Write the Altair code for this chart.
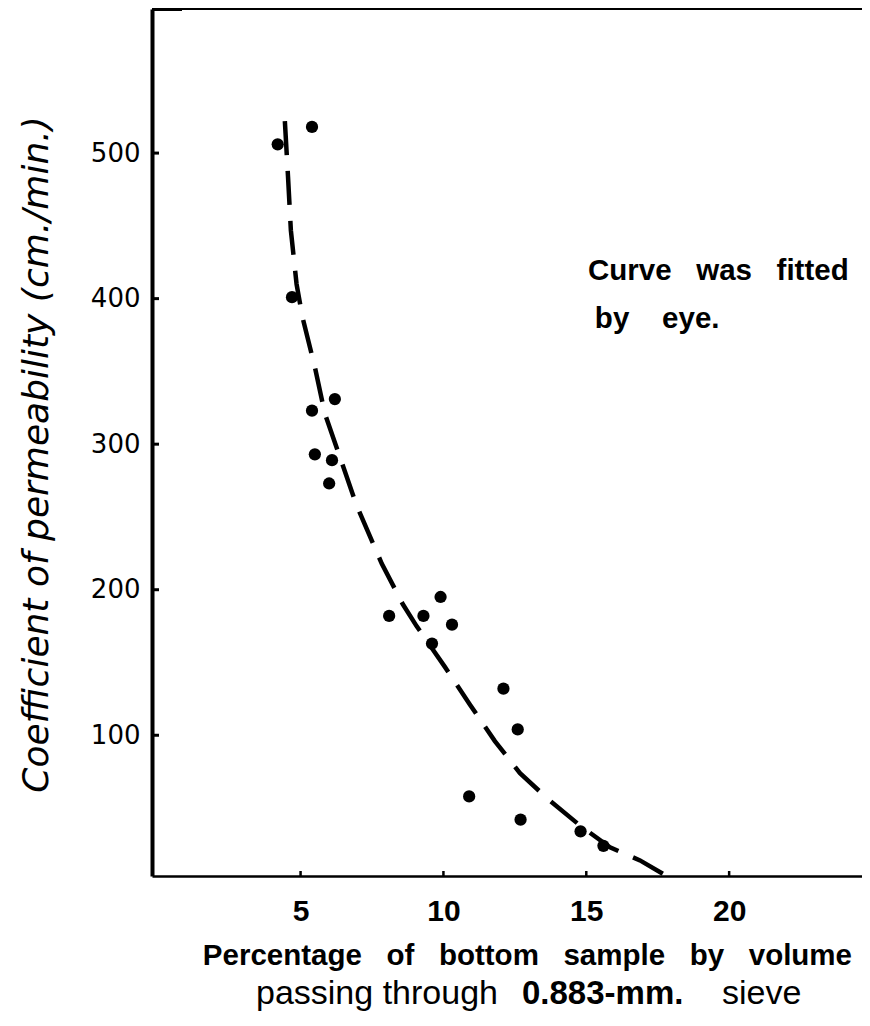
import altair as alt
import pandas as pd

# Data points (percentage passing, coefficient of permeability)
x_pts = [4.2, 5.4, 4.7, 5.4, 6.2, 5.5, 6.1, 6.0, 8.1, 9.3, 9.9, 10.3, 9.6, 12.1, 12.6, 10.9, 12.7, 14.8, 15.6]
y_pts = [506, 518, 401, 323, 331, 293, 289, 273, 182, 182, 195, 176, 163, 132, 104, 58, 42, 34, 24]

# Curve fitted by eye
curve_x = [4.45, 4.56, 4.66, 4.86, 5.07, 5.50, 5.85, 6.38, 6.96, 7.84, 8.58, 9.06, 10.05,
           10.93, 11.80, 12.68, 13.67, 14.78, 15.83, 16.88, 17.81]
curve_y = [522, 484, 447, 410, 387, 353, 321, 291, 258, 218, 190, 175, 147,
           121, 96, 74, 56, 38, 23, 14, 3.3]

x_ticks = [5, 10, 15, 20]
y_ticks = [100, 200, 300, 400, 500]
X_DOMAIN = [-0.2, 24.65]
Y_DOMAIN = [3.3, 599]

W, H = 710, 867

pts = pd.DataFrame({"x": x_pts, "y": y_pts})
curve = pd.DataFrame({"x": curve_x, "y": curve_y})
xt = pd.DataFrame({"x": x_ticks})
yt = pd.DataFrame({"y": y_ticks})
top = pd.DataFrame({"y": [Y_DOMAIN[1]]})

xs = alt.Scale(domain=X_DOMAIN, nice=False, zero=False)
ys = alt.Scale(domain=Y_DOMAIN, nice=False, zero=False)

SANS = "Liberation Sans, Arial, sans-serif"
NBSP3 = "\u00a0\u00a0\u00a0"

x_axis = alt.Axis(values=x_ticks, ticks=False, grid=False, title=None,
                  domainColor="black", domainWidth=2.5,
                  labelFont=SANS, labelFontWeight="bold", labelFontSize=30,
                  labelColor="black", labelPadding=20)
y_axis = alt.Axis(values=y_ticks, ticks=False, grid=False,
                  title="Coefficient of permeability (cm./min.)",
                  domainColor="black", domainWidth=4,
                  labelFont="DejaVu Sans", labelFontSize=26, labelColor="black",
                  labelPadding=12,
                  titleFont="DejaVu Sans", titleFontStyle="italic", titleFontWeight="normal",
                  titleFontSize=36, titleColor="black",
                  titleX=-116, titleY=445, titleAlign="center", titleBaseline="middle",
                  titleAngle=-90)

base_pts = alt.Chart(pts).mark_circle(size=150, color="black", opacity=1).encode(
    x=alt.X("x:Q", scale=xs, axis=x_axis),
    y=alt.Y("y:Q", scale=ys, axis=y_axis),
)

line = alt.Chart(curve).mark_line(color="black", strokeWidth=4.5, strokeDash=[34, 16]).encode(
    x=alt.X("x:Q", scale=xs), y=alt.Y("y:Q", scale=ys), order="x:Q")

ytick_marks = alt.Chart(yt).mark_rule(color="black", strokeWidth=3).encode(
    y=alt.Y("y:Q", scale=ys), x=alt.value(0), x2=alt.value(7))
xtick_marks = alt.Chart(xt).mark_rule(color="black", strokeWidth=2.5).encode(
    x=alt.X("x:Q", scale=xs), y=alt.value(H), y2=alt.value(H - 5))
top_line = alt.Chart(top).mark_rule(color="black", strokeWidth=2).encode(
    y=alt.Y("y:Q", scale=ys), x=alt.value(0), x2=alt.value(W))
top_stub = alt.Chart(top).mark_rule(color="black", strokeWidth=4).encode(
    y=alt.Y("y:Q", scale=ys), x=alt.value(0), x2=alt.value(30))

# Annotation
note = pd.DataFrame({"x": [15.06, 15.3], "y": [419, 386],
                     "t": ["Curve" + NBSP3 + "was" + NBSP3 + "fitted",
                           "by\u00a0\u00a0\u00a0\u00a0eye."]})
note_text = alt.Chart(note).mark_text(align="left", baseline="middle", font=SANS,
                                      fontWeight="bold", fontSize=29.5, color="black").encode(
    x=alt.X("x:Q", scale=xs), y=alt.Y("y:Q", scale=ys), text="t:N")

# X axis title lines
line1 = pd.DataFrame({"x": [1.58],
                      "t": [NBSP3.join(["Percentage", "of", "bottom", "sample", "by", "volume"])]})
line1_text = alt.Chart(line1).mark_text(align="left", baseline="alphabetic", font=SANS,
                                        fontWeight="bold", fontSize=29.5, color="black").encode(
    x=alt.X("x:Q", scale=xs), y=alt.value(956), text="t:N")

line2 = pd.DataFrame({"x": [3.44, 12.75, 19.75],
                      "t": ["passing through", "0.883-mm.", "sieve"],
                      "w": ["normal", "bold", "normal"]})
line2_normal = alt.Chart(line2[line2.w == "normal"]).mark_text(
    align="left", baseline="alphabetic", font=SANS, fontSize=34, color="black").encode(
    x=alt.X("x:Q", scale=xs), y=alt.value(995), text="t:N")
line2_bold = alt.Chart(line2[line2.w == "bold"]).mark_text(
    align="left", baseline="alphabetic", font=SANS, fontWeight="bold",
    fontSize=33, color="black").encode(
    x=alt.X("x:Q", scale=xs), y=alt.value(995), text="t:N")

chart = alt.layer(
    top_line, top_stub, line, base_pts, ytick_marks, xtick_marks,
    note_text, line1_text, line2_normal, line2_bold
).properties(
    width=W, height=H,
    autosize=alt.AutoSizeParams(type="none"),
    padding={"left": 144, "top": 1, "right": 0, "bottom": 136},
    background="white",
).configure_view(stroke=None)

chart.save("out.html", embed_options={"renderer": "svg", "actions": False})
